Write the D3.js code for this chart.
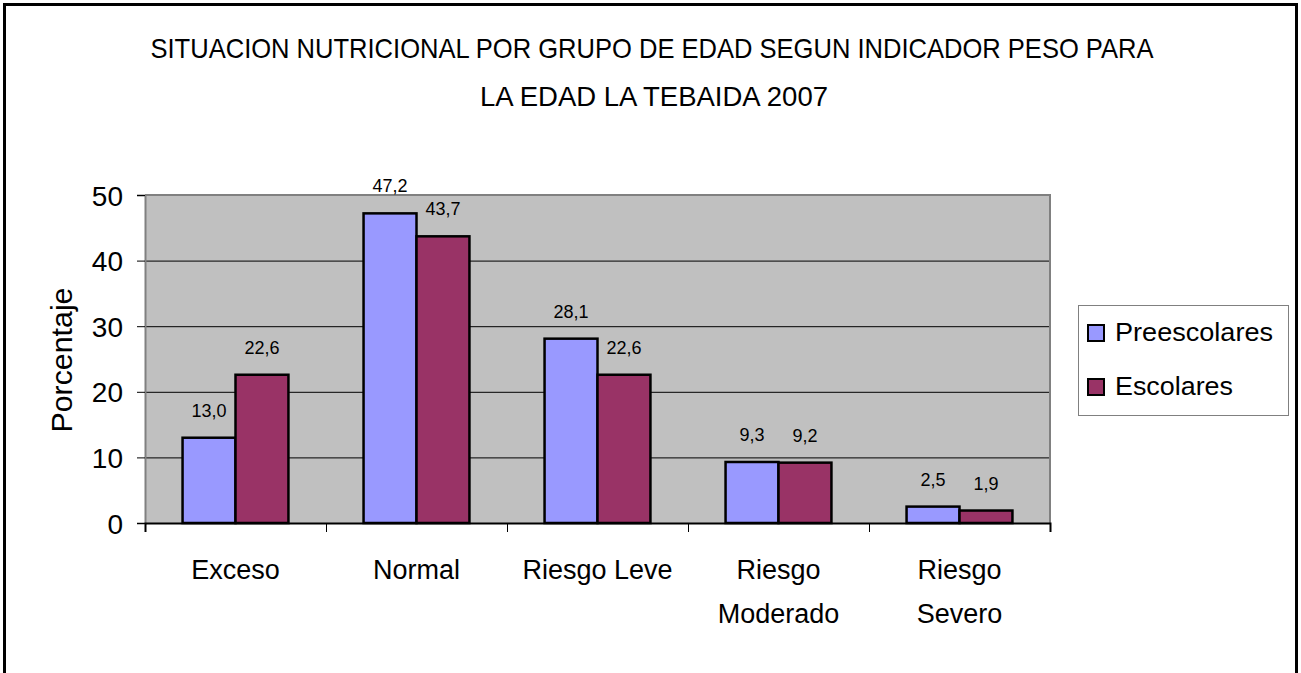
<!DOCTYPE html>
<html>
<head>
<meta charset="utf-8">
<script src="https://cdn.jsdelivr.net/npm/d3@7"></script>
<style>
  html, body { margin: 0; padding: 0; background: #fff; }
  svg text { font-family: "Liberation Sans", Arial, sans-serif; fill: #000; }
</style>
</head>
<body>
<script>
// data
const categories = [["Exceso"], ["Normal"], ["Riesgo Leve"], ["Riesgo", "Moderado"], ["Riesgo", "Severo"]];
const preescolares = [13.0, 47.2, 28.1, 9.3, 2.5];
const escolares = [22.6, 43.7, 22.6, 9.2, 1.9];
const seriesNames = ["Preescolares", "Escolares"];
const seriesColors = ["#9999FF", "#993366"];
const yTicks = [0, 10, 20, 30, 40, 50];
const titleLines = ["SITUACION NUTRICIONAL POR GRUPO DE EDAD SEGUN INDICADOR PESO PARA", "LA EDAD LA TEBAIDA 2007"];

const width = 1301, height = 673;
const plot = { left: 145, right: 1050, top: 195, bottom: 523 };

const svg = d3.select("body").append("svg")
  .attr("width", width)
  .attr("height", height);

// outer frame (bottom edge falls outside the picture)
svg.append("rect")
  .attr("x", 4.5).attr("y", 4.5)
  .attr("width", 1292).attr("height", 700)
  .attr("fill", "#fff")
  .attr("stroke", "#000")
  .attr("stroke-width", 3);

// title
svg.append("text")
  .attr("x", 652).attr("y", 58)
  .attr("text-anchor", "middle")
  .attr("font-size", 28)
  .attr("textLength", 1003)
  .attr("lengthAdjust", "spacingAndGlyphs")
  .text(titleLines[0]);
svg.append("text")
  .attr("x", 654).attr("y", 106)
  .attr("text-anchor", "middle")
  .attr("font-size", 28)
  .attr("textLength", 348)
  .attr("lengthAdjust", "spacingAndGlyphs")
  .text(titleLines[1]);

// scales
const x0 = d3.scaleBand()
  .domain(d3.range(categories.length))
  .range([plot.left, plot.right])
  .paddingInner(0).paddingOuter(0);

const groupW = x0.bandwidth() * 0.585;
const x1 = d3.scaleBand()
  .domain(d3.range(seriesNames.length))
  .range([0, groupW]);

const y = d3.scaleLinear()
  .domain([0, 50])
  .range([plot.bottom, plot.top]);

// plot background
svg.append("rect")
  .attr("x", plot.left).attr("y", plot.top)
  .attr("width", plot.right - plot.left)
  .attr("height", plot.bottom - plot.top)
  .attr("fill", "#C0C0C0");

// gridlines
svg.append("g")
  .selectAll("line")
  .data(yTicks.filter(d => d > 0 && d < 50))
  .join("line")
  .attr("x1", plot.left).attr("x2", plot.right)
  .attr("y1", d => y(d) + 0.5).attr("y2", d => y(d) + 0.5)
  .attr("stroke", "#000")
  .attr("stroke-width", 1);

// plot border top/right
svg.append("path")
  .attr("d", `M${plot.left},${plot.top} H${plot.right} V${plot.bottom}`)
  .attr("fill", "none")
  .attr("stroke", "#808080")
  .attr("stroke-width", 2);

// bars
const series = [preescolares, escolares];
const groups = svg.append("g")
  .selectAll("g")
  .data(categories.map((c, i) => i))
  .join("g")
  .attr("transform", i => `translate(${x0(i) + (x0.bandwidth() - groupW) / 2},0)`);

groups.selectAll("rect")
  .data(i => series.map((s, k) => ({ k: k, v: s[i] })))
  .join("rect")
  .attr("x", d => x1(d.k))
  .attr("y", d => y(d.v))
  .attr("width", x1.bandwidth())
  .attr("height", d => y(0) - y(d.v))
  .attr("fill", d => seriesColors[d.k])
  .attr("stroke", "#000")
  .attr("stroke-width", 2.5);

groups.selectAll("text")
  .data(i => series.map((s, k) => ({ k: k, v: s[i] })))
  .join("text")
  .attr("x", d => x1(d.k) + x1.bandwidth() / 2)
  .attr("y", d => y(d.v) - 21)
  .attr("text-anchor", "middle")
  .attr("font-size", 18)
  .text(d => d.v.toFixed(1).replace(".", ","));

// y axis
const yAxis = svg.append("g")
  .attr("transform", `translate(${plot.left},0)`)
  .call(d3.axisLeft(y).tickValues(yTicks).tickSize(8).tickPadding(14).tickFormat(d3.format("d")));
yAxis.select(".domain").attr("stroke", "#808080").attr("stroke-width", 2);
yAxis.selectAll(".tick line").attr("stroke", "#000");
yAxis.selectAll(".tick text")
  .attr("font-size", 28)
  .attr("font-family", "Liberation Sans, Arial, sans-serif")
  .attr("dy", "0.36em");

// x axis
const xAxis = svg.append("g")
  .attr("transform", `translate(0,${plot.bottom})`)
  .call(d3.axisBottom(d3.scaleLinear().domain([0, categories.length]).range([plot.left, plot.right]))
    .tickValues(d3.range(categories.length + 1)).tickSize(9).tickFormat(""));
xAxis.select(".domain").attr("stroke", "#000").attr("stroke-width", 2);
xAxis.selectAll(".tick line").attr("stroke", "#000");

// category labels
svg.append("g")
  .selectAll("text")
  .data(categories)
  .join("text")
  .attr("x", (d, i) => x0(i) + x0.bandwidth() / 2)
  .attr("y", 579)
  .attr("text-anchor", "middle")
  .attr("font-size", 27)
  .selectAll("tspan")
  .data(d => d)
  .join("tspan")
  .attr("x", function () { return this.parentNode.getAttribute("x"); })
  .attr("dy", (d, j) => j === 0 ? 0 : 44)
  .text(d => d);

// y axis title
svg.append("text")
  .attr("transform", "translate(72,360) rotate(-90)")
  .attr("text-anchor", "middle")
  .attr("font-size", 29)
  .attr("textLength", 145)
  .attr("lengthAdjust", "spacingAndGlyphs")
  .text("Porcentaje");

// legend
const legendWidths = [158, 118];
const legend = svg.append("g");
legend.append("rect")
  .attr("x", 1078.5).attr("y", 305.5)
  .attr("width", 210).attr("height", 110)
  .attr("fill", "#fff")
  .attr("stroke", "#808080")
  .attr("stroke-width", 1);
const items = legend.selectAll("g")
  .data(seriesNames)
  .join("g")
  .attr("transform", (d, i) => `translate(1088,${325 + i * 54})`);
items.append("rect")
  .attr("width", 16).attr("height", 16)
  .attr("fill", (d, i) => seriesColors[i])
  .attr("stroke", "#000")
  .attr("stroke-width", 2);
items.append("text")
  .attr("x", 27).attr("y", 16)
  .attr("font-size", 26)
  .attr("textLength", (d, i) => legendWidths[i])
  .attr("lengthAdjust", "spacingAndGlyphs")
  .text(d => d);
</script>
</body>
</html>
